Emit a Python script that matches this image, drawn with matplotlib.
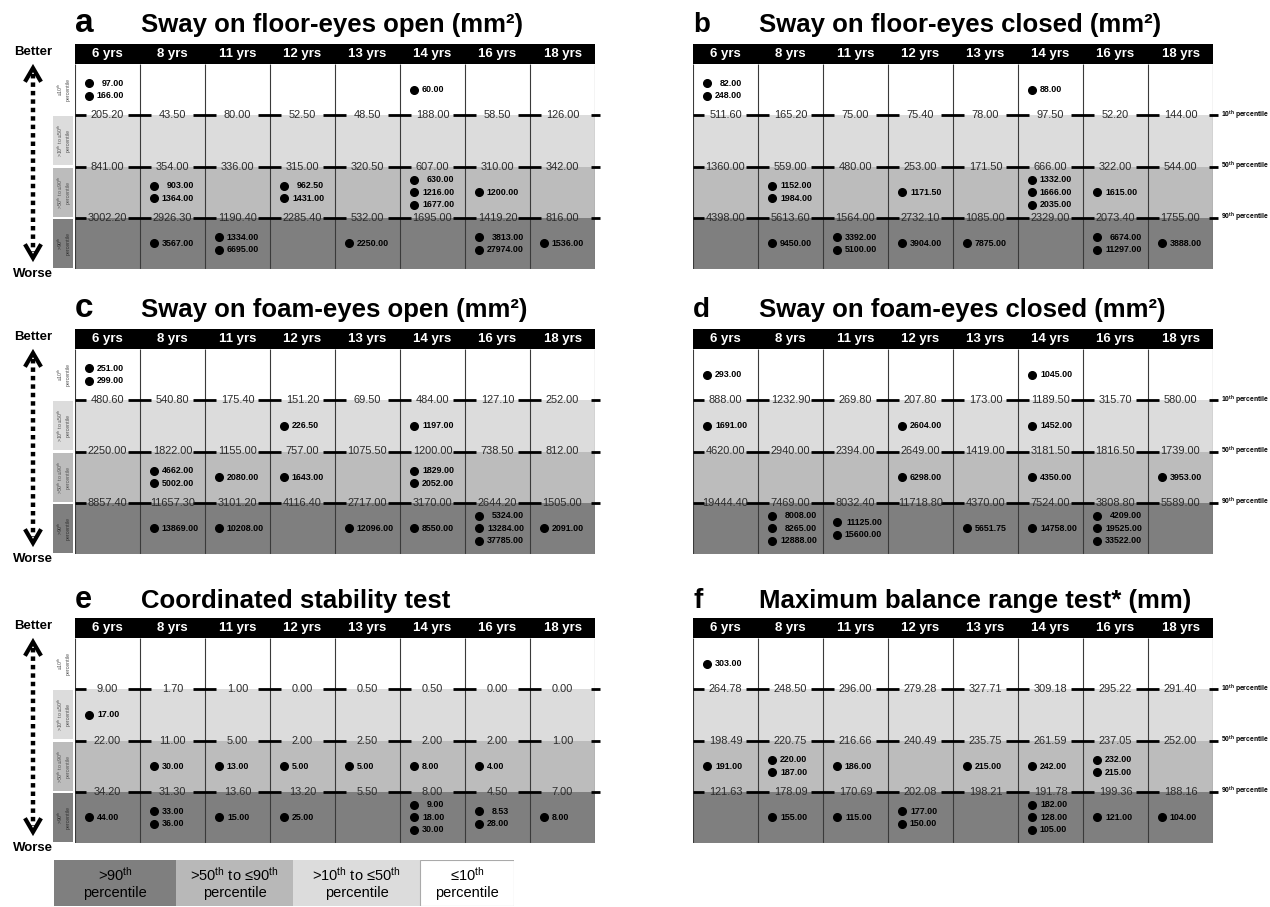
import numpy as np
import matplotlib
matplotlib.use('Agg')
import matplotlib.pyplot as plt
from matplotlib.patches import Rectangle
from matplotlib.lines import Line2D

plt.rcParams['mathtext.fontset'] = 'custom'
plt.rcParams['mathtext.rm'] = 'Liberation Sans'
plt.rcParams['mathtext.bf'] = 'Liberation Sans:bold'
plt.rcParams['mathtext.it'] = 'Liberation Sans:italic'
SANS = ['Liberation Sans', 'DejaVu Sans']

ages = ['6 yrs', '8 yrs', '11 yrs', '12 yrs', '13 yrs', '14 yrs', '16 yrs', '18 yrs']

# ---- panel a: Sway on floor-eyes open
a_p10 = [205.20, 43.50, 80.00, 52.50, 48.50, 188.00, 58.50, 126.00]
a_p50 = [841.00, 354.00, 336.00, 315.00, 320.50, 607.00, 310.00, 342.00]
a_p90 = [3002.20, 2926.30, 1190.40, 2285.40, 532.00, 1695.00, 1419.20, 816.00]
a_pts = [[97, 166], [903, 1364, 3567], [1334, 6695], [962.5, 1431], [2250],
         [60, 630, 1216, 1677], [1200, 3813, 27974], [1536]]

# ---- panel b: Sway on floor-eyes closed
b_p10 = [511.60, 165.20, 75.00, 75.40, 78.00, 97.50, 52.20, 144.00]
b_p50 = [1360.00, 559.00, 480.00, 253.00, 171.50, 666.00, 322.00, 544.00]
b_p90 = [4398.00, 5613.60, 1564.00, 2732.10, 1085.00, 2329.00, 2073.40, 1755.00]
b_pts = [[82, 248], [1152, 1984, 9450], [3392, 5100], [1171.5, 3904], [7875],
         [88, 1332, 1666, 2035], [1615, 6674, 11297], [3888]]

# ---- panel c: Sway on foam-eyes open
c_p10 = [480.60, 540.80, 175.40, 151.20, 69.50, 484.00, 127.10, 252.00]
c_p50 = [2250.00, 1822.00, 1155.00, 757.00, 1075.50, 1200.00, 738.50, 812.00]
c_p90 = [8857.40, 11657.30, 3101.20, 4116.40, 2717.00, 3170.00, 2644.20, 1505.00]
c_pts = [[251, 299], [4662, 5002, 13869], [2080, 10208], [226.5, 1643], [12096],
         [1197, 1829, 2052, 8550], [5324, 13284, 37785], [2091]]

# ---- panel d: Sway on foam-eyes closed
d_p10 = [888.00, 1232.90, 269.80, 207.80, 173.00, 1189.50, 315.70, 580.00]
d_p50 = [4620.00, 2940.00, 2394.00, 2649.00, 1419.00, 3181.50, 1816.50, 1739.00]
d_p90 = [19444.40, 7469.00, 8032.40, 11718.80, 4370.00, 7524.00, 3808.80, 5589.00]
d_pts = [[293, 1691], [8008, 8265, 12888], [11125, 15600], [2604, 6298], [5651.75],
         [1045, 1452, 4350, 14758], [4209, 19525, 33522], [3953]]

# ---- panel e: Coordinated stability test
e_p10 = [9.00, 1.70, 1.00, 0.00, 0.50, 0.50, 0.00, 0.00]
e_p50 = [22.00, 11.00, 5.00, 2.00, 2.50, 2.00, 2.00, 1.00]
e_p90 = [34.20, 31.30, 13.60, 13.20, 5.50, 8.00, 4.50, 7.00]
e_pts = [[17, 44], [30, 33, 36], [13, 15], [5, 25], [5],
         [8, 9, 18, 30], [4, 8.53, 28], [8]]

# ---- panel f: Maximum balance range test (higher is better)
f_p10 = [264.78, 248.50, 296.00, 279.28, 327.71, 309.18, 295.22, 291.40]
f_p50 = [198.49, 220.75, 216.66, 240.49, 235.75, 261.59, 237.05, 252.00]
f_p90 = [121.63, 178.09, 170.69, 202.08, 198.21, 191.78, 199.36, 188.16]
f_pts = [[303, 191], [220, 187, 155], [186, 115], [177, 150], [215],
         [242, 182, 128, 105], [232, 215, 121], [104]]

band_colors = ['#ffffff', '#dcdcdc', '#bcbcbc', '#7f7f7f']
strip_labels = ['≤10$^{\\mathrm{th}}$\npercentile',
                '>10$^{\\mathrm{th}}$ to ≤50$^{\\mathrm{th}}$\npercentile',
                '>50$^{\\mathrm{th}}$ to ≤90$^{\\mathrm{th}}$\npercentile',
                '>90$^{\\mathrm{th}}$\npercentile']
right_labels = ['10$^{\\mathbf{th}}$ percentile', '50$^{\\mathbf{th}}$ percentile',
                '90$^{\\mathbf{th}}$ percentile']
legend_labels = ['>90$^{\\mathrm{th}}$\npercentile',
                 '>50$^{\\mathrm{th}}$ to ≤90$^{\\mathrm{th}}$\npercentile',
                 '>10$^{\\mathrm{th}}$ to ≤50$^{\\mathrm{th}}$\npercentile',
                 '≤10$^{\\mathrm{th}}$\npercentile']
legend_colors = ['#7f7f7f', '#b8b8b8', '#dcdcdc', '#ffffff']

W, H = 1270, 907
COLW, BANDH, HDRH = 65.0, 51.25, 20.0
PT_FS = 6.4

fig = plt.figure(figsize=(W / 100, H / 100), dpi=100)


def band_of(v, t10, t50, t90, rev):
    if not rev:
        return 0 if v <= t10 else 1 if v <= t50 else 2 if v <= t90 else 3
    return 0 if v >= t10 else 1 if v >= t50 else 2 if v >= t90 else 3


def est_width(s, pt):
    em = pt * 100 / 72.0
    w = sum(0.278 if ch == '.' else 0.556 for ch in s) * em
    return w / COLW


def draw_panel(letter, lsize, title, p10, p50, p90, pts, rev, left, top, side, tgap=12):
    tw, th = 8 * COLW, HDRH + 4 * BANDH
    ax = fig.add_axes([left / W, 1 - (top + th) / H, tw / W, th / H])
    hdr = HDRH / BANDH
    ax.set_xlim(0, 8)
    ax.set_ylim(4, -hdr)
    ax.axis('off')
    px = lambda p: p / COLW
    py = lambda p: -hdr + p / BANDH

    # title
    fig.text(left / W, 1 - (top - tgap) / H, letter, fontsize=lsize, fontweight='bold',
             family=SANS, va='baseline', ha='left')
    fig.text((left + 66) / W, 1 - (top - tgap) / H, title, fontsize=18.5, fontweight='bold',
             family=SANS, va='baseline', ha='left')

    for b in range(4):
        ax.add_patch(Rectangle((0, b), 8, 1, facecolor=band_colors[b], edgecolor='none'))
    ax.add_patch(Rectangle((0, -hdr), 8, hdr, facecolor='black', edgecolor='none'))
    for i, a in enumerate(ages):
        ax.text(i + 0.5, -hdr / 2, a, color='white', ha='center', va='center',
                fontsize=9.5, fontweight='bold', family=SANS)
    ax.vlines(np.arange(9), 0, 4, color='#3a3a3a', lw=0.8)
    ax.hlines(4, 0, 8, color='#999999', lw=0.8)

    # thresholds
    for k, arr in enumerate([p10, p50, p90]):
        y = k + 1
        for i, v in enumerate(arr):
            ax.text(i + 0.5, y, f'{v:.2f}', ha='center', va='center', fontsize=7.9,
                    color='#2a2a2a', family=SANS)
        segs = [(0, px(11))] + [(i - px(12), i + px(11)) for i in range(1, 8)] + [(8 - px(4), 8 + px(5))]
        for x0, x1 in segs:
            ax.add_line(Line2D([x0, x1], [y, y], color='black', lw=2.0,
                               solid_capstyle='butt', clip_on=False))
        if side == 'right':
            ax.text(8 + px(8), y, right_labels[k], ha='left', va='center', fontsize=4.9,
                    fontweight='bold', family=SANS, clip_on=False)

    # points
    for i, vals in enumerate(pts):
        groups = {}
        for v in vals:
            groups.setdefault(band_of(v, p10[i], p50[i], p90[i], rev), []).append(v)
        for b, lst in groups.items():
            n = len(lst)
            maxw = max(est_width(f'{v:.2f}', PT_FS) for v in lst)
            xd = i + px(14)
            for k, v in enumerate(lst):
                yy = b + 0.5 + (k - (n - 1) / 2) * 0.245
                ax.plot([xd], [yy], 'o', color='black', ms=5.5, clip_on=False)
                ax.text(xd + px(8) + maxw, yy, f'{v:.2f}', ha='right', va='center',
                        fontsize=PT_FS, fontweight='bold', family=SANS)

    # left strip + arrow
    if side == 'left':
        for b in range(4):
            if b > 0:
                ax.add_patch(Rectangle((-px(22), b + 0.02), px(20), 0.96,
                                       facecolor=band_colors[b], edgecolor='none', clip_on=False))
            ax.text(-px(12), b + 0.5, strip_labels[b], rotation=90, ha='center', va='center',
                    fontsize=3.8, color='#555555' if b < 3 else '#333333', family=SANS,
                    linespacing=1.1, clip_on=False)
        xa = -px(75 - 33)
        ax.text(xa, py(8), 'Better', ha='center', va='center', fontsize=9.5,
                fontweight='bold', family=SANS)
        ax.text(xa, py(230), 'Worse', ha='center', va='center', fontsize=9.5,
                fontweight='bold', family=SANS)
        hw = px(7)
        ax.add_line(Line2D([xa - hw, xa, xa + hw], [py(36), py(24), py(36)], color='black',
                           lw=3, clip_on=False, solid_joinstyle='miter'))
        ax.add_line(Line2D([xa - hw, xa, xa + hw], [py(202), py(214), py(202)], color='black',
                           lw=3, clip_on=False, solid_joinstyle='miter'))
        ax.add_line(Line2D([xa, xa], [py(30), py(208)], color='black', lw=3.2,
                           linestyle=(0, (1.0, 0.9)), dash_capstyle='butt', clip_on=False))
    return ax


draw_panel('a', 24, 'Sway on floor-eyes open (mm²)', a_p10, a_p50, a_p90, a_pts, False, 75, 44, 'left')
draw_panel('b', 20, 'Sway on floor-eyes closed (mm²)', b_p10, b_p50, b_p90, b_pts, False, 693, 44, 'right')
draw_panel('c', 24, 'Sway on foam-eyes open (mm²)', c_p10, c_p50, c_p90, c_pts, False, 75, 329, 'left')
draw_panel('d', 20, 'Sway on foam-eyes closed (mm²)', d_p10, d_p50, d_p90, d_pts, False, 693, 329, 'right')
draw_panel('e', 22, 'Coordinated stability test', e_p10, e_p50, e_p90, e_pts, False, 75, 618, 'left', tgap=10)
draw_panel('f', 20, 'Maximum balance range test* (mm)', f_p10, f_p50, f_p90, f_pts, True, 693, 618, 'right', tgap=10)

# legend
lax = fig.add_axes([54 / W, 1 - 906 / H, 460 / W, 46 / H])
lax.set_xlim(0, 460)
lax.set_ylim(0, 46)
lax.axis('off')
widths = [122, 117, 127, 94]
x0 = 0
for lab, col, w in zip(legend_labels, legend_colors, widths):
    lax.add_patch(Rectangle((x0, 0), w, 46, facecolor=col,
                            edgecolor='#aaaaaa' if col == '#ffffff' else 'none', lw=0.8))
    lax.text(x0 + w / 2, 23, lab, ha='center', va='center', fontsize=10.5, family=SANS,
             linespacing=1.2)
    x0 += w

fig.savefig('out.png', dpi=100)
